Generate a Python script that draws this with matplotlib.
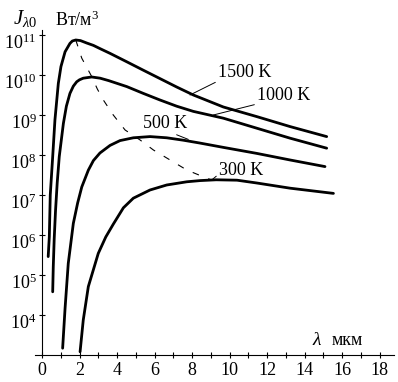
import numpy as np
import matplotlib
matplotlib.use("Agg")
import matplotlib.pyplot as plt
from matplotlib.ticker import NullLocator
from matplotlib.transforms import ScaledTranslation

plt.rcParams["font.family"] = ["Liberation Serif", "DejaVu Serif"]
plt.rcParams["mathtext.fontset"] = "custom"
plt.rcParams["mathtext.rm"] = "Liberation Serif"
plt.rcParams["mathtext.it"] = "Liberation Serif:italic"

# wavelength (um) and log10 of spectral emissive power J (W/m^3)
lam_1500 = [0.33, 0.39, 0.44, 0.57, 0.69, 0.87, 1.01, 1.23, 1.49, 1.62, 1.80, 2.05,
            2.38, 2.74, 3.09, 3.63, 4.52, 5.40, 6.29, 7.18, 8.07, 9.67, 11.45, 13.23, 15.18]
lg_1500 = [5.46, 5.96, 7.00, 7.96, 8.88, 9.79, 10.21, 10.58, 10.79, 10.85, 10.875, 10.86,
           10.80, 10.74, 10.66, 10.54, 10.33, 10.12, 9.91, 9.70, 9.50, 9.20, 8.96, 8.71, 8.46]

lam_1000 = [0.57, 0.60, 0.65, 0.72, 0.81, 0.92, 1.14, 1.30, 1.49, 1.67, 1.85, 2.00,
            2.20, 2.65, 3.10, 3.55, 4.52, 5.40, 6.29, 7.18, 8.07, 9.67, 11.45, 13.23, 15.18]
lg_1000 = [4.58, 5.20, 5.90, 6.60, 7.30, 7.96, 8.79, 9.22, 9.54, 9.72, 9.83, 9.88,
           9.92, 9.95, 9.92, 9.86, 9.71, 9.54, 9.375, 9.22, 9.09, 8.92, 8.67, 8.42, 8.17]

lam_500 = [1.10, 1.23, 1.40, 1.67, 1.90, 2.12, 2.47, 2.74, 3.09, 3.63, 4.16, 4.87,
           5.76, 6.65, 7.53, 8.40, 9.67, 11.45, 13.23, 15.09]
lg_500 = [3.17, 4.17, 5.29, 6.29, 6.80, 7.20, 7.62, 7.86, 8.05, 8.24, 8.36, 8.43,
          8.46, 8.43, 8.37, 8.30, 8.19, 8.04, 7.875, 7.71]

lam_300 = [2.03, 2.20, 2.47, 3.00, 3.40, 3.80, 4.34, 4.87, 5.76, 6.65, 7.72, 8.43,
           9.29, 10.40, 11.45, 13.23, 15.54]
lg_300 = [3.08, 3.875, 4.71, 5.54, 5.95, 6.27, 6.68, 6.92, 7.125, 7.25, 7.33, 7.36,
          7.38, 7.37, 7.30, 7.17, 7.04]

# locus of maxima (dashed)
lam_max = [1.80, 2.12, 2.40, 2.65, 2.95, 3.27, 3.80, 4.43, 5.23, 5.94, 6.83, 7.72, 8.78, 9.05]
lg_max = [10.875, 10.42, 10.18, 9.96, 9.65, 9.375, 9.0, 8.625, 8.375, 8.125, 7.875, 7.625,
          7.42, 7.375]

x_ticks = list(range(0, 19))
y_decades = [4, 5, 6, 7, 8, 9, 10, 11]

# label text, label anchor (lam, log J), leader end on curve, leader start in label box
labels = ["1500 K", "1000 K", "500 K", "300 K"]
label_xy = [(9.39, 9.95), (11.47, 9.375), (5.39, 8.675), (9.44, 7.50)]
leader_xy = [(7.89, 9.50), (9.14, 9.00), (7.80, 8.39), (9.05, 7.375)]
leader_rel = [(0.0, 0.0), (0.0, 0.0), (0.6, 0.0), (0.0, 0.3)]

fig = plt.figure(figsize=(3.98, 3.82), dpi=100)
ax = fig.add_axes([0.0867, 0.0707, 0.9023, 0.8508])
ax.set_yscale("log")

for lam, lg in [(lam_1500, lg_1500), (lam_1000, lg_1000), (lam_500, lg_500), (lam_300, lg_300)]:
    ax.plot(lam, 10.0 ** np.array(lg), color="black", lw=2.0,
            solid_joinstyle="round", solid_capstyle="round")
ax.plot(lam_max, 10.0 ** np.array(lg_max), color="black", lw=0.8, dashes=(6, 9))

for txt, (tx, ty), (lx, ly), rel in zip(labels, label_xy, leader_xy, leader_rel):
    ax.annotate(txt, xy=(lx, 10 ** ly), xytext=(tx, 10 ** ty), fontsize=13,
                ha="left", va="baseline",
                arrowprops=dict(arrowstyle="-", lw=0.7, color="black",
                                shrinkA=0, shrinkB=0, relpos=rel))

ax.set_xlim(-0.4, 18.75)
ax.set_ylim(1e3, 10 ** 11.125)

for s in ["top", "right"]:
    ax.spines[s].set_visible(False)
ax.spines["left"].set_position(("data", 0))
ax.spines["left"].set_linewidth(0.8)
ax.spines["bottom"].set_linewidth(0.8)

ax.set_xticks(x_ticks)
ax.set_xticklabels([str(v) if v % 2 == 0 else "" for v in x_ticks], fontsize=13)
ax.set_yticks([10.0 ** d for d in y_decades])
ax.set_yticklabels([r"$10^{%d}$" % d for d in y_decades], fontsize=13)
ax.yaxis.set_minor_locator(NullLocator())
ax.tick_params(axis="both", direction="inout", length=4, width=0.8)
ax.tick_params(axis="y", pad=2)
ax.tick_params(axis="x", pad=3)

shift = ScaledTranslation(0, -6.5 / 100, fig.dpi_scale_trans)
for t in ax.get_yticklabels():
    t.set_transform(t.get_transform() + shift)

fig.text(13 / 398, 1 - 24 / 382, r"$J_{\lambda 0}$", fontsize=15, va="baseline")
fig.text(55 / 398, 1 - 26 / 382, "Вт/м$^3$", fontsize=13, va="baseline")
fig.text(312 / 398, 1 - 345 / 382, r"$\lambda$", fontsize=14, va="baseline")
fig.text(332 / 398, 1 - 345 / 382, "мкм", fontsize=13, va="baseline")

fig.savefig("out.png", dpi=100)
